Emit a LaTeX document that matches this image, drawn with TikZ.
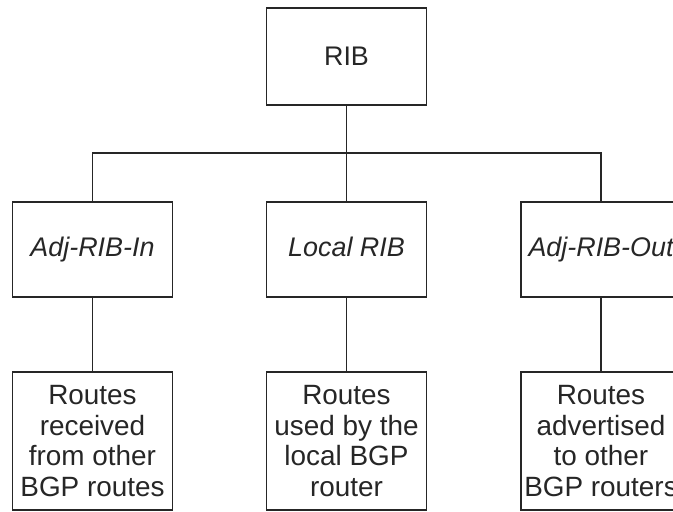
\documentclass[tikz,border=0pt]{standalone}
\usepackage{fontspec}
\setmainfont{Liberation Sans}
\begin{document}
\begin{tikzpicture}[x=1bp,y=-1bp,
  box/.style={draw=black!85, text=black!85, line width=1.5bp, minimum width=160bp,
    inner sep=0pt, align=center, font=\fontsize{27}{31}\selectfont},
  tier/.style={box, minimum height=95bp, text height=19.5bp, text depth=5.5bp,
    font=\fontsize{27}{31}\selectfont\itshape},
  leaf/.style={box, minimum height=138bp, font=\fontsize{28}{31}\selectfont},
  link/.style={draw=black!85, line width=1.5bp}]
\useasboundingbox (0,0) rectangle (673,512);

% root table
\node[box, minimum height=97bp] (rib) at (346.5,56.5) {RIB};

% the three RIB tables
\node[tier] (in)  at (92.5,249.5)  {Adj-RIB-In};
\node[tier] (loc) at (346.5,249.5) {Local RIB};
\node[tier] (out) at (601,249.5)   {Adj-RIB-Out};

% what each table holds
\node[leaf] (inD)  at (92.5,441)  {Routes\\received\\from other\\BGP routes};
\node[leaf] (locD) at (346.5,441) {Routes\\used by the\\local BGP\\router};
\node[leaf] (outD) at (601,441)   {Routes\\advertised\\to other\\BGP routers};

% tree connectors
\coordinate (bus) at (346.5,153);
\draw[link] (rib.south) -- (loc.north);
\draw[link] (in.north) |- (bus) -| (out.north);
\draw[link] (in.south) -- (inD.north);
\draw[link] (loc.south) -- (locD.north);
\draw[link] (out.south) -- (outD.north);
\end{tikzpicture}
\end{document}
